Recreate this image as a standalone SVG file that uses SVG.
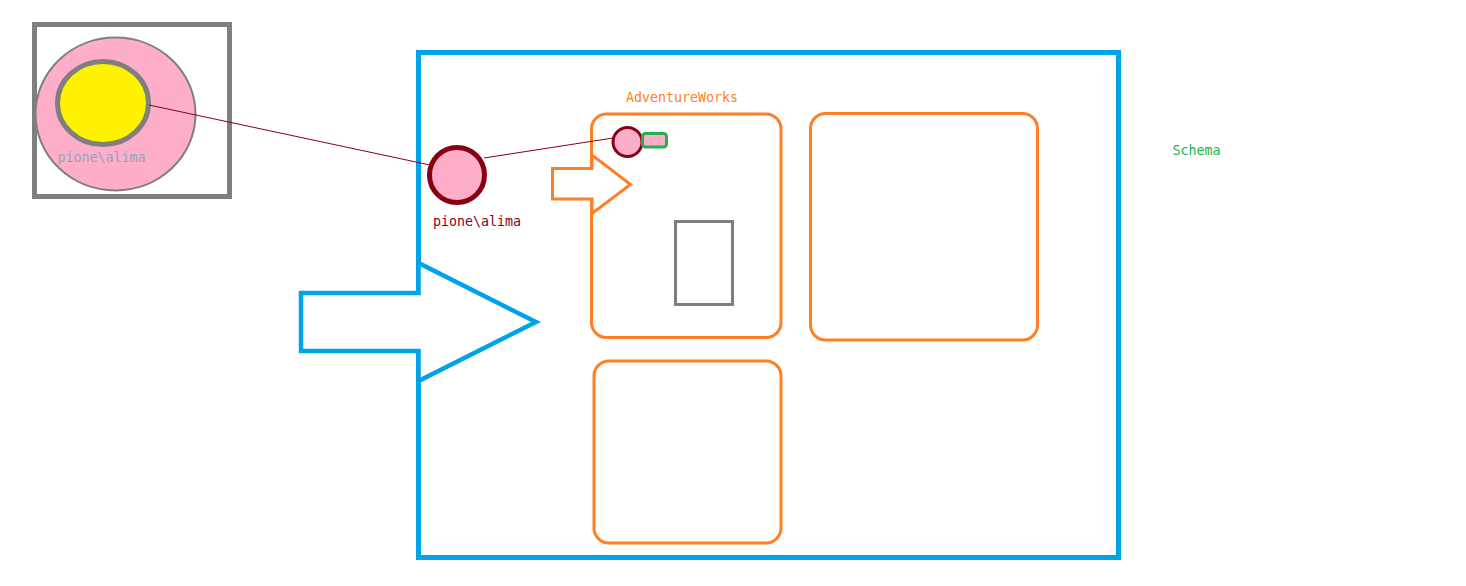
<svg xmlns="http://www.w3.org/2000/svg" width="1466" height="586" viewBox="0 0 1466 586">
<style>
.lbl{font-family:"DejaVu Sans Mono","Liberation Mono",monospace;font-size:13.3px}
.orr{fill:none;stroke:#ff7f27;stroke-width:3}
.conn{stroke:#880015;stroke-width:1;fill:none}
</style>
<rect width="1466" height="586" fill="#ffffff"/>
<g id="server">
<rect x="34.5" y="24.5" width="195" height="172" fill="none" stroke="#7f7f7f" stroke-width="5"/>
<ellipse cx="115.5" cy="114" rx="80" ry="76.5" fill="#ffaec9" stroke="#7f7f7f" stroke-width="2"/>
<ellipse cx="103" cy="103" rx="45.5" ry="41.5" fill="#fff200" stroke="#7f7f7f" stroke-width="5"/>
<text class="lbl" x="57.5" y="162" fill="#86aabf">pione\alima</text>
</g>
<g id="database">
<rect x="418.5" y="52.5" width="700" height="505" fill="none" stroke="#00a2e8" stroke-width="5"/>
</g>
<g id="db-arrow">
<polygon points="301,293 418.5,293 418.5,263 536,322 418.5,381 418.5,351 301,351" fill="#ffffff" stroke="#00a2e8" stroke-width="4.5"/>
</g>
<g id="schema1">
<rect class="orr" x="591.5" y="114" width="189.5" height="223.5" rx="15"/>
<text class="lbl" x="626" y="102" fill="#ff7f27">AdventureWorks</text>
</g>
<g id="schema-arrow">
<polygon points="552.5,168.5 592,168.5 592,155 630.5,184.5 592,213.5 592,199 552.5,199" fill="#ffffff" stroke="#ff7f27" stroke-width="3"/>
</g>
<g id="schema2">
<rect class="orr" x="810.5" y="113.5" width="227" height="226.5" rx="15"/>
</g>
<g id="schema3">
<rect class="orr" x="594" y="361" width="187" height="182" rx="15"/>
</g>
<g id="table">
<rect x="675.5" y="221.5" width="57" height="83" fill="none" stroke="#7f7f7f" stroke-width="3"/>
</g>
<g id="schema-label">
<text class="lbl" x="1172.5" y="155" fill="#22b14c">Schema</text>
</g>
<g id="connectors">
<line class="conn" x1="149" y1="105" x2="430" y2="165"/>
<line class="conn" x1="484" y1="158" x2="613" y2="138"/>
</g>
<g id="login">
<circle cx="457" cy="175" r="27.5" fill="#ffaec9" stroke="#880015" stroke-width="5"/>
<text class="lbl" x="433" y="226" fill="#880015">pione\alima</text>
</g>
<g id="user">
<circle cx="627.5" cy="142" r="14.5" fill="#ffaec9" stroke="#880015" stroke-width="3"/>
<rect x="642.5" y="133.5" width="24" height="13.5" rx="3" fill="#ffaec9" stroke="#22b14c" stroke-width="3"/>
</g>
</svg>
